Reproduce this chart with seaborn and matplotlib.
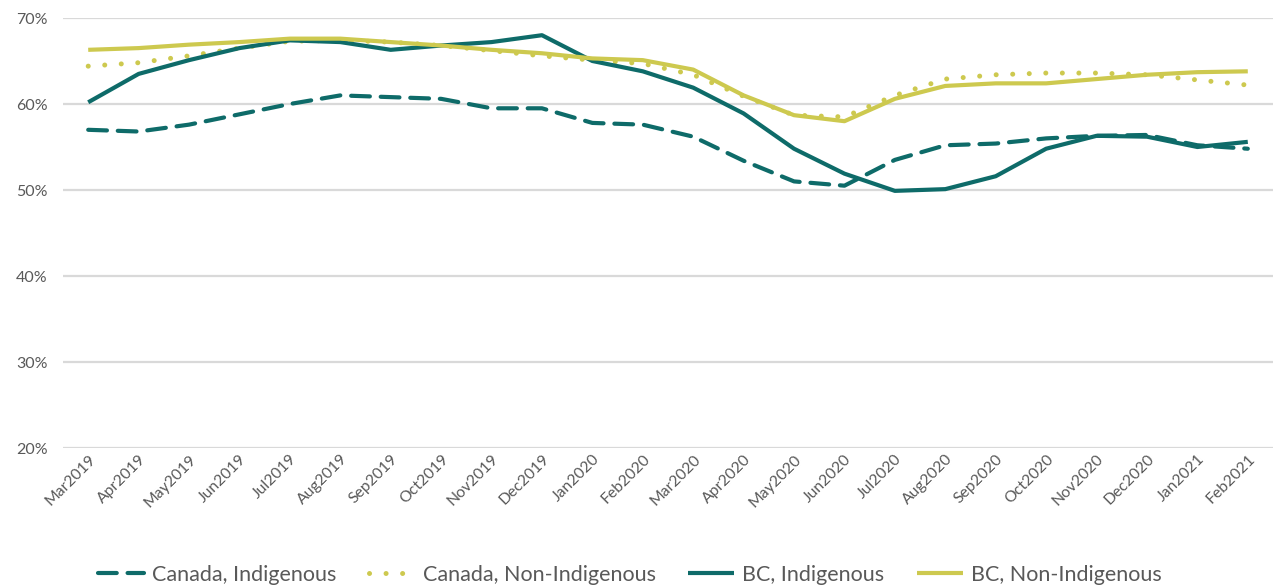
import matplotlib
matplotlib.use("Agg")
import matplotlib.pyplot as plt
from matplotlib.ticker import PercentFormatter
import seaborn as sns
import pandas as pd

months = ['Mar2019', 'Apr2019', 'May2019', 'Jun2019', 'Jul2019', 'Aug2019',
          'Sep2019', 'Oct2019', 'Nov2019', 'Dec2019', 'Jan2020', 'Feb2020',
          'Mar2020', 'Apr2020', 'May2020', 'Jun2020', 'Jul2020', 'Aug2020',
          'Sep2020', 'Oct2020', 'Nov2020', 'Dec2020', 'Jan2021', 'Feb2021']

canada_indigenous = [57.0, 56.8, 57.6, 58.8, 60.0, 61.0, 60.8, 60.6, 59.5, 59.5, 57.8, 57.6,
                     56.2, 53.4, 51.0, 50.5, 53.5, 55.2, 55.4, 56.0, 56.3, 56.4, 55.2, 54.8]
canada_non_indigenous = [64.4, 64.8, 65.6, 66.5, 67.3, 67.4, 67.2, 66.8, 66.2, 65.6, 65.1, 64.7,
                         63.4, 60.9, 58.7, 58.5, 61.0, 62.9, 63.4, 63.6, 63.6, 63.4, 62.8, 62.2]
bc_indigenous = [60.2, 63.5, 65.1, 66.5, 67.4, 67.2, 66.3, 66.8, 67.2, 68.0, 65.0, 63.8,
                 61.9, 58.9, 54.8, 51.9, 49.9, 50.1, 51.6, 54.8, 56.3, 56.2, 55.0, 55.6]
bc_non_indigenous = [66.3, 66.5, 66.9, 67.2, 67.6, 67.6, 67.2, 66.8, 66.3, 65.9, 65.3, 65.1,
                     64.0, 61.0, 58.7, 58.0, 60.6, 62.1, 62.4, 62.4, 62.9, 63.4, 63.7, 63.8]

teal = '#0e6b69'
olive = '#cdc94f'

df = pd.DataFrame({'month': months,
                   'Canada, Indigenous': canada_indigenous,
                   'Canada, Non-Indigenous': canada_non_indigenous,
                   'BC, Indigenous': bc_indigenous,
                   'BC, Non-Indigenous': bc_non_indigenous})

sns.set_style('white')
plt.rcParams['font.family'] = ['Lato', 'DejaVu Sans']

fig = plt.figure(figsize=(12.75, 5.88), dpi=100)
ax = fig.add_axes([63 / 1275, 1 - 448 / 588, 1210 / 1275, 430 / 588])

series = [
    ('Canada, Indigenous', teal, (0, (4.5, 2.6)), 3.0, 'round'),
    ('Canada, Non-Indigenous', olive, (0, (0.01, 3.3)), 3.6, 'round'),
    ('BC, Indigenous', teal, '-', 3.0, 'butt'),
    ('BC, Non-Indigenous', olive, '-', 3.0, 'butt'),
]
for name, color, ls, lw, cap in series:
    sns.lineplot(data=df, x='month', y=name, ax=ax, color=color, linewidth=lw,
                 linestyle=ls, label=name, solid_capstyle=cap, dash_capstyle=cap)

ax.set_ylim(20, 70)
ax.set_xlim(-0.5, len(months) - 0.5)
ax.set_yticks([20, 30, 40, 50, 60, 70])
ax.yaxis.set_major_formatter(PercentFormatter(decimals=0))
ax.grid(axis='y', color='#d9d9d9', linewidth=1.6)
ax.grid(axis='x', visible=False)
for s in ax.spines.values():
    s.set_visible(False)
ax.set_xlabel('')
ax.set_ylabel('')
ax.tick_params(axis='y', colors='#595959', labelsize=11.5, length=0, pad=11)
ax.tick_params(axis='x', colors='#595959', labelsize=11.3, length=0, pad=3)
plt.setp(ax.get_xticklabels(), rotation=45, ha='right', rotation_mode='anchor')

leg = ax.legend(loc='center', bbox_to_anchor=(0.494, 1 - 575 / 588),
                bbox_transform=fig.transFigure, ncol=4, frameon=False,
                fontsize=15.5, handlelength=2.14, columnspacing=1.5,
                handletextpad=0.37, borderpad=0.1)
for t in leg.get_texts():
    t.set_color('#595959')

fig.savefig('out.png', dpi=100)
